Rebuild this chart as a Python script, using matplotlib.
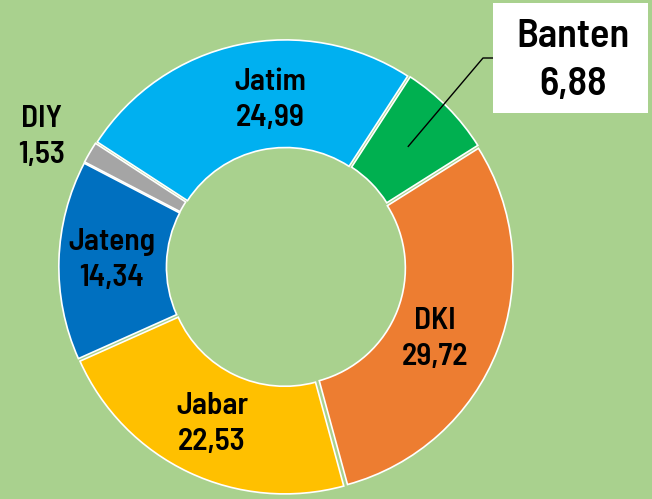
import numpy as np
import matplotlib
matplotlib.use("Agg")
import matplotlib.pyplot as plt
from matplotlib.patches import Rectangle
from matplotlib import font_manager

regions = ["Banten", "DKI", "Jabar", "Jateng", "DIY", "Jatim"]
values = [6.88, 29.72, 22.53, 14.34, 1.53, 24.99]
value_labels = ["6,88", "29,72", "22,53", "14,34", "1,53", "24,99"]
colors = ["#00b050", "#ed7d31", "#ffc000", "#0070c0", "#a5a5a5", "#00b0f0"]
bg = "#a9d18e"

names = {f.name for f in font_manager.fontManager.ttflist}
fam = [n for n in ["Barlow Semi Condensed", "Barlow"] if n in names] + ["DejaVu Sans"]

W, H = 652, 499
cx, cy, R = 286, 267, 229
fig = plt.figure(figsize=(W / 100, H / 100), dpi=100, facecolor=bg)
ax = fig.add_axes([0, 0, 1, 1])
ax.set_facecolor(bg)

startangle = 57
wedges, _ = ax.pie(values, colors=colors, startangle=startangle, counterclock=False,
                   radius=0.98, explode=[0.012] * len(values),
                   wedgeprops=dict(width=0.47, edgecolor="white", linewidth=1.2))
ax.set_xlim(-cx / R, (W - cx) / R)
ax.set_ylim(-(H - cy) / R, cy / R)
ax.axis("off")

def px(x, y):
    return ((x - cx) / R, (cy - y) / R)

label_px = {
    "Jatim": (270, 100),
    "DIY": (42, 137),
    "Jateng": (112, 260),
    "Jabar": (212, 424),
    "DKI": (435, 339),
}
for name, val in zip(regions, value_labels):
    if name in label_px:
        x, y = px(*label_px[name])
        ax.text(x, y, f"{name}\n{val}", ha="center", va="center", fontsize=22.5,
                family=fam, weight=600, linespacing=1.38, color="black")

# Banten callout
i = regions.index("Banten")
theta = np.deg2rad(startangle - sum(values[:i]) * 3.6 - values[i] * 1.8)
p0 = (0.75 * np.cos(theta), 0.75 * np.sin(theta))
e = px(483, 58)
b = px(493, 58)
ax.plot([p0[0], e[0], b[0]], [p0[1], e[1], b[1]], color="black", lw=1)
bx0, by0 = px(493, 113)
bx1, by1 = px(648, 3)
ax.add_patch(Rectangle((bx0, by0), bx1 - bx0, by1 - by0, facecolor="white", edgecolor="none", zorder=3))
x, y = px(573, 61)
ax.text(x, y, f"Banten\n{value_labels[i]}", ha="center", va="center", fontsize=29,
        family=fam, weight=600, linespacing=1.4, color="black", zorder=4)

fig.savefig("out.png", dpi=100, facecolor=bg)
